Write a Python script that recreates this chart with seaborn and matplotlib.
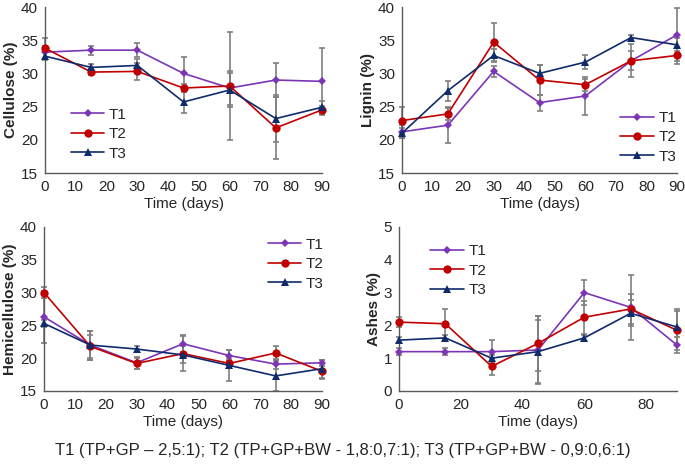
import numpy as np
import pandas as pd
import seaborn as sns
import matplotlib.pyplot as plt

days = [0, 15, 30, 45, 60, 75, 90]
treatments = ["T1", "T2", "T3"]

cel_T1 = [33.2, 33.5, 33.5, 30.0, 27.8, 29.0, 28.8]
cel_T2 = [33.8, 30.2, 30.3, 27.8, 28.1, 21.8, 24.5]
cel_T3 = [32.6, 30.9, 31.2, 25.7, 27.5, 23.2, 24.9]
cel_e1 = [1.0, 0.7, 1.1, 2.5, 2.5, 2.6, 5.1]
cel_e2 = [1.6, 0.5, 1.3, 0.6, 8.2, 4.7, 0.6]
cel_e3 = [0.6, 0.5, 1.0, 1.6, 2.6, 3.5, 0.9]

lig_T1 = [21.2, 22.2, 30.3, 25.6, 26.6, 31.9, 35.8]
lig_T2 = [22.9, 23.9, 34.7, 29.0, 28.3, 31.9, 32.7]
lig_T3 = [21.0, 27.4, 32.7, 30.0, 31.7, 35.4, 34.3]
lig_e1 = [1.0, 2.7, 0.8, 1.2, 2.9, 1.4, 4.0]
lig_e2 = [2.0, 0.9, 2.9, 2.2, 0.9, 2.5, 1.3]
lig_e3 = [0.8, 1.5, 1.0, 1.2, 1.0, 0.4, 1.0]

hem_T1 = [26.3, 22.0, 19.3, 22.2, 20.4, 19.1, 19.3]
hem_T2 = [30.0, 21.8, 19.2, 20.7, 19.2, 20.8, 18.0]
hem_T3 = [25.3, 22.0, 21.4, 20.5, 18.9, 17.3, 18.4]
hem_e1 = [4.0, 2.2, 0.9, 1.3, 0.9, 0.8, 0.5]
hem_e2 = [0.8, 1.8, 0.9, 2.7, 0.7, 1.0, 1.2]
hem_e3 = [0.5, 2.2, 0.4, 1.3, 2.3, 2.3, 1.4]

ash_T1 = [1.2, 1.2, 1.2, 1.25, 3.0, 2.55, 1.4]
ash_T2 = [2.1, 2.05, 0.75, 1.45, 2.25, 2.5, 1.85]
ash_T3 = [1.55, 1.62, 1.0, 1.2, 1.62, 2.37, 1.95]
ash_e1 = [0.1, 0.1, 0.35, 1.05, 0.38, 1.0, 0.25]
ash_e2 = [0.15, 0.45, 0.25, 0.85, 0.5, 0.45, 0.6]
ash_e3 = [0.1, 0.1, 0.1, 0.95, 0.1, 0.4, 0.55]

colors = {"T1": "#7B35B5", "T2": "#C00000", "T3": "#0F2B6B"}
markers = {"T1": "D", "T2": "o", "T3": "^"}
msize_by_marker = {"D": 4.5, "o": 6.0, "^": 6.0}

sns.set_theme(style="white")
plt.rcParams['font.family'] = ['Liberation Sans', 'DejaVu Sans']

fig = plt.figure(figsize=(6.85, 4.65), dpi=100)
W, H = 685, 465
def add_ax(l, r, t, b):
    return fig.add_axes([l / W, 1 - b / H, (r - l) / W, (b - t) / H])

panels = [
    (add_ax(45, 322, 7, 173), "Cellulose (%)", (cel_T1, cel_T2, cel_T3), (cel_e1, cel_e2, cel_e3),
     (15, 40), [15, 20, 25, 30, 35, 40], range(0, 91, 10), "lower left", (0.06, 0.02)),
    (add_ax(402, 677, 7, 173), "Lignin (%)", (lig_T1, lig_T2, lig_T3), (lig_e1, lig_e2, lig_e3),
     (15, 40), [15, 20, 25, 30, 35, 40], range(0, 91, 10), "lower right", (1.03, 0.0)),
    (add_ax(44, 322, 227, 391), "Hemicellulose (%)", (hem_T1, hem_T2, hem_T3), (hem_e1, hem_e2, hem_e3),
     (15, 40), [15, 20, 25, 30, 35, 40], range(0, 91, 10), "upper right", (1.04, 0.99)),
    (add_ax(399, 677, 227, 391), "Ashes (%)", (ash_T1, ash_T2, ash_T3), (ash_e1, ash_e2, ash_e3),
     (0, 5), [0, 1, 2, 3, 4, 5], range(0, 81, 20), "upper left", (0.08, 0.95)),
]

def resize_markers(lines):
    for ln in lines:
        m = ln.get_marker()
        if m in msize_by_marker:
            ln.set_markersize(msize_by_marker[m])

for ax, ylab, series, errs, ylim, yt, xt, loc, anchor in panels:
    rows = []
    for t, vals in zip(treatments, series):
        for d, v in zip(days, vals):
            rows.append({"Time": d, "Value": v, "Treatment": t})
    df = pd.DataFrame(rows)
    for t, vals, e in zip(treatments, series, errs):
        ax.errorbar(days, vals, yerr=e, fmt="none", ecolor="#7f7f7f", elinewidth=1.2,
                    capsize=2.5, capthick=1.2, zorder=1, clip_on=False)
    sns.lineplot(data=df, x="Time", y="Value", hue="Treatment", style="Treatment",
                 palette=colors, markers=markers, dashes=False, ax=ax, linewidth=1.2,
                 markeredgewidth=0, zorder=3, clip_on=False)
    resize_markers(ax.get_lines())
    ax.set_xlim(0, 90)
    ax.set_ylim(*ylim)
    ax.set_yticks(yt)
    ax.set_xticks(list(xt))
    ax.set_ylabel(ylab, fontsize=11, fontweight="bold", labelpad=2)
    ax.set_xlabel("Time (days)", fontsize=11, labelpad=2)
    ax.tick_params(axis="both", labelsize=11, length=0, pad=5)
    for s in ["top", "right"]:
        ax.spines[s].set_visible(False)
    for s in ["left", "bottom"]:
        ax.spines[s].set_color("#595959")
        ax.spines[s].set_linewidth(1.0)
    handles, labels = ax.get_legend_handles_labels()
    leg = ax.legend(handles=handles, labels=labels, loc=loc, bbox_to_anchor=anchor, frameon=False,
                    fontsize=11, handlelength=2.2, handletextpad=0.3, labelspacing=0.35, borderaxespad=0.2)
    resize_markers(leg.get_lines())

fig.text(0.5, 1 - 450 / H, "T1 (TP+GP \u2013 2,5:1); T2 (TP+GP+BW - 1,8:0,7:1); T3 (TP+GP+BW - 0,9:0,6:1)",
         ha="center", va="center", fontsize=12)

fig.savefig("out.png", dpi=100, facecolor="white")
